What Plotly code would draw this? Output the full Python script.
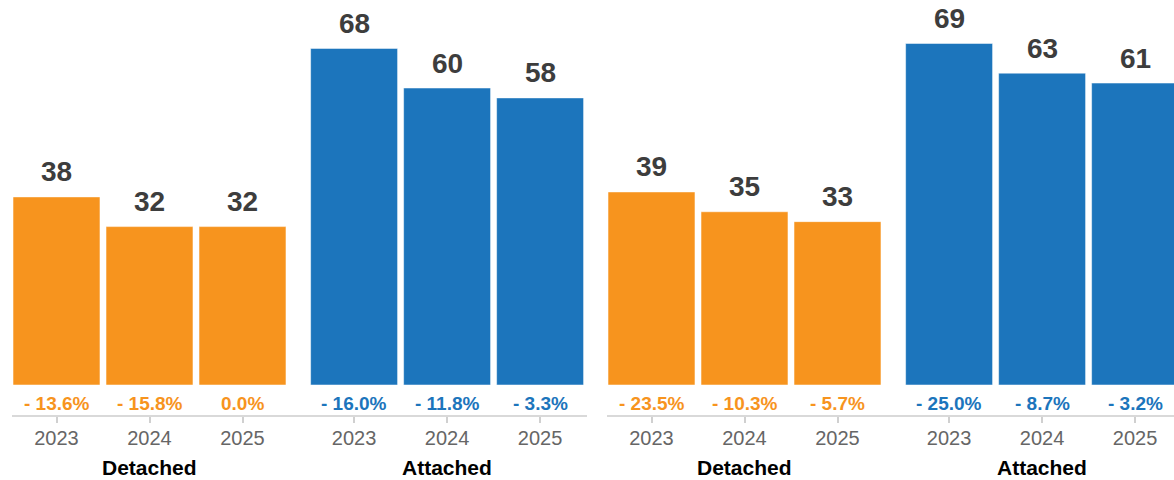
import plotly.graph_objects as go

years = ["2023", "2024", "2025"]
groups = ["Detached", "Attached"]
left_detached = [38, 32, 32]
left_attached = [68, 60, 58]
right_detached = [39, 35, 33]
right_attached = [69, 63, 61]
left_detached_pct = ["- 13.6%", "- 15.8%", "0.0%"]
left_attached_pct = ["- 16.0%", "- 11.8%", "- 3.3%"]
right_detached_pct = ["- 23.5%", "- 10.3%", "- 5.7%"]
right_attached_pct = ["- 25.0%", "- 8.7%", "- 3.2%"]

ORANGE = "#f7941e"
BLUE = "#1c75bc"
FONT = "Liberation Sans"
GROUP_GAP = 3.2
BAR_W = 0.935

W, H = 1174, 480
AXIS_PX = 415          # pixel row of the axis line
ZERO_PX = 385          # pixel row of value zero
SCALE = 4.95           # px per unit
ymin = -(AXIS_PX - ZERO_PX) / SCALE
ymax = ZERO_PX / SCALE

fig = go.Figure()

panels = [
    ("x", "y", [(left_detached, left_detached_pct, ORANGE), (left_attached, left_attached_pct, BLUE)]),
    ("x2", "y2", [(right_detached, right_detached_pct, ORANGE), (right_attached, right_attached_pct, BLUE)]),
]

annotations = []
ticks = {}
for xa, ya, series in panels:
    tickvals, ticktext = [], []
    for gi, (vals, pcts, col) in enumerate(series):
        xs = [gi * GROUP_GAP + i for i in range(len(years))]
        fig.add_trace(go.Bar(
            x=xs, y=vals, width=BAR_W, marker_color=col,
            marker_line=dict(color="rgba(255,255,255,0.5)", width=1),
            xaxis=xa, yaxis=ya, showlegend=False, hoverinfo="skip",
        ))
        tickvals += xs
        ticktext += years
        for x, v, p in zip(xs, vals, pcts):
            annotations.append(dict(
                x=x, y=v, xref=xa, yref=ya, text=str(v), showarrow=False,
                yanchor="middle", yshift=25,
                font=dict(family=FONT, size=28, color="#3d3d3d", weight="bold"),
            ))
            annotations.append(dict(
                x=x, y=-(403 - ZERO_PX) / SCALE, xref=xa, yref=ya, text=p, showarrow=False,
                yanchor="middle",
                font=dict(family=FONT, size=19, color=col, weight="bold"),
            ))
        annotations.append(dict(
            x=xs[1], y=-(467 - AXIS_PX) / AXIS_PX, xref=xa, yref="paper",
            text=groups[gi], showarrow=False, yanchor="middle",
            font=dict(family=FONT, size=21, color="#000000", weight="bold"),
        ))
    ticks[xa] = (tickvals, ticktext)

axis_common = dict(
    showgrid=False, zeroline=False, showline=True, linecolor="#d9d9d9", linewidth=2,
    ticks="outside", ticklen=6, tickcolor="#d0d0d0", tickwidth=2,
    tickfont=dict(family=FONT, size=20, color="#666666"),
    ticklabelstandoff=-2,
    tickmode="array", fixedrange=True,
)
fig.update_layout(
    width=W, height=H,
    margin=dict(l=0, r=0, t=0, b=H - AXIS_PX),
    paper_bgcolor="white", plot_bgcolor="white",
    bargap=0,
    xaxis=dict(domain=[12 / W, 587 / W], range=[-0.4785, -0.4785 + 575 / 93],
               tickvals=ticks["x"][0], ticktext=ticks["x"][1], anchor="y", **axis_common),
    xaxis2=dict(domain=[607 / W, 1.0], range=[-0.4785, -0.4785 + 567 / 93],
                tickvals=ticks["x2"][0], ticktext=ticks["x2"][1], anchor="y2", **axis_common),
    yaxis=dict(range=[ymin, ymax], visible=False, fixedrange=True, anchor="x"),
    yaxis2=dict(range=[ymin, ymax], visible=False, fixedrange=True, anchor="x2"),
    annotations=annotations,
)
fig.write_html("out.html", config={"displayModeBar": False, "staticPlot": True},
               post_script="document.body.style.margin='0';document.body.style.overflow='hidden';")
